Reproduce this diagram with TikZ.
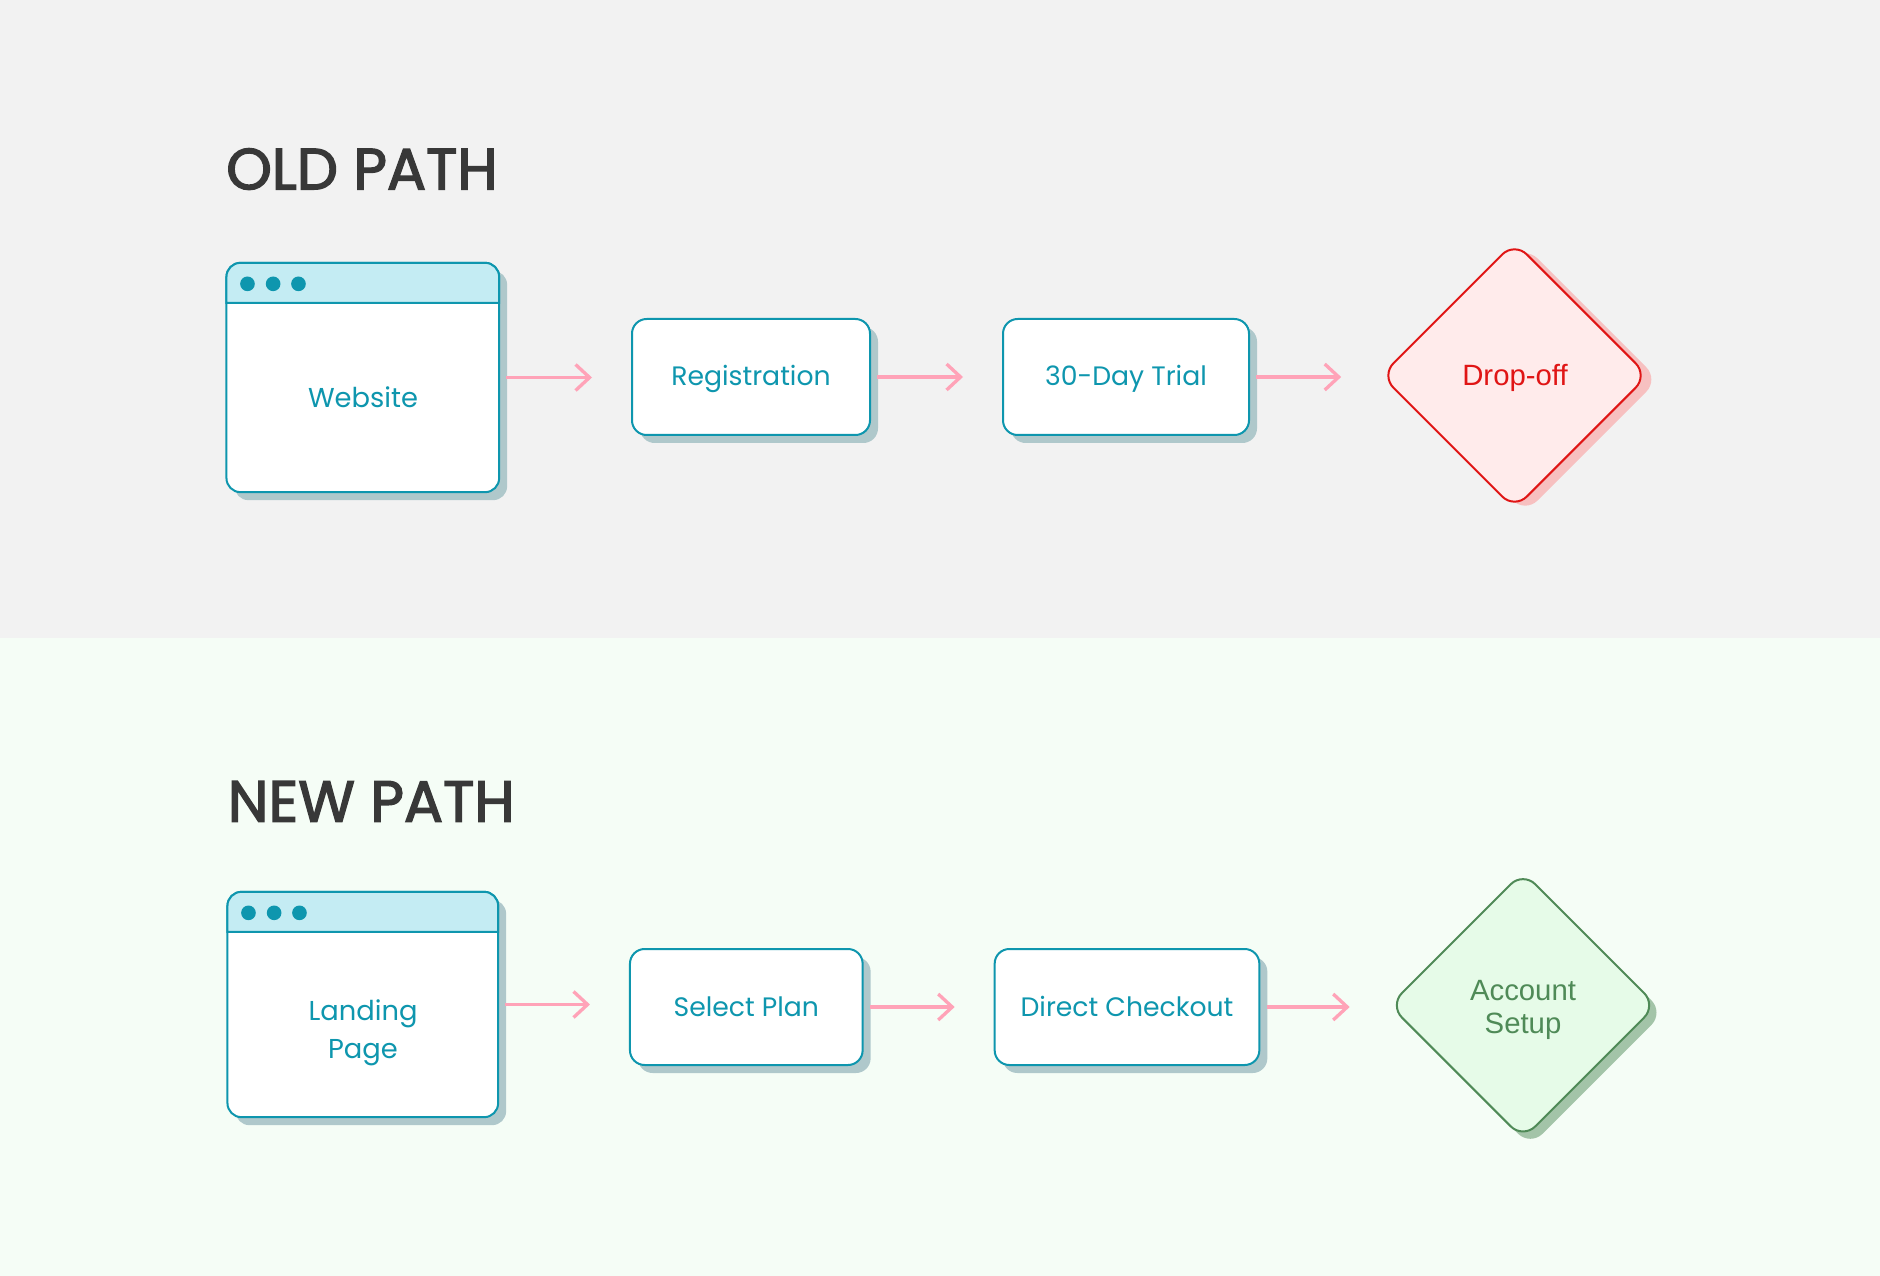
\documentclass[tikz,border=0pt]{standalone}
\usepackage{fontspec}
\usetikzlibrary{arrows.meta,shadows,shapes.geometric}
\setmainfont{Poppins}
\newfontfamily\titlefont[FakeBold=2.5]{Poppins}
\newfontfamily\endfont{Liberation Sans}
\definecolor{oldbg}{HTML}{F2F2F2}
\definecolor{newbg}{HTML}{F5FDF6}
\definecolor{flowblue}{HTML}{0E96AE}
\definecolor{barblue}{HTML}{C4ECF3}
\definecolor{boxshadow}{HTML}{AFC8CB}
\definecolor{flowpink}{HTML}{FFA3B8}
\definecolor{titlegray}{HTML}{383838}
\definecolor{dropred}{HTML}{E01515}
\definecolor{dropfill}{HTML}{FFEBEB}
\definecolor{dropshadow}{HTML}{F7C0C0}
\definecolor{setupgreen}{HTML}{4F8A57}
\definecolor{setupfill}{HTML}{E6FBE8}
\definecolor{setupshadow}{HTML}{A3C4A8}
\newcommand{\windowbar}[1]{
  \draw[flowblue,fill=barblue,line width=1.5pt] ([yshift=-30pt]#1.north west)
    [rounded corners=10.5pt] -- (#1.north west) -- (#1.north east)
    [sharp corners] -- ([yshift=-30pt]#1.north east) -- cycle;
  \foreach \dotx in {15.75,35,54} {
    \fill[flowblue] ([xshift=\dotx pt,yshift=-15.75pt]#1.north west) circle (5.5pt);
  }
}
\tikzset{
  flowbox/.style={draw=flowblue,fill=white,line width=1.5pt,rounded corners=11pt,outer sep=0pt,
    inner sep=0pt,text=flowblue,font=\fontsize{20}{28}\selectfont,text height=16pt,text depth=2.5pt,
    minimum height=87pt,
    drop shadow={shadow xshift=6pt,shadow yshift=-6pt,fill=boxshadow,opacity=1}},
  windowbox/.style={flowbox,rounded corners=10.5pt},
  windowtext/.style={text=flowblue,font=\fontsize{20.5}{28.5}\selectfont,align=center},
  pathtitle/.style={text=titlegray,anchor=base west,inner sep=0pt,font=\titlefont\fontsize{43.5}{50}\selectfont},
  flowarrow/.style={draw=flowpink,line width=2.5pt,-{Straight Barb[length=10.5pt,width=19.5pt]},
    shorten <=5.5pt,shorten >=30pt},
  endnode/.style={diamond,aspect=1,rounded corners=13pt,line width=1.5pt,outer sep=0pt,inner sep=0pt,
    minimum size=200pt},
  dropnode/.style={endnode,draw=dropred,fill=dropfill,
    drop shadow={shadow xshift=8pt,shadow yshift=-3pt,fill=dropshadow,opacity=1}},
  setupnode/.style={endnode,draw=setupgreen,fill=setupfill,
    drop shadow={shadow xshift=5.5pt,shadow yshift=-5.5pt,fill=setupshadow,opacity=1}},
  endtext/.style={align=center,font=\endfont\fontsize{22}{25}\selectfont},
}
\begin{document}
\begin{tikzpicture}[x=.75pt,y=-.75pt]
\useasboundingbox (0,0) rectangle (1880,1276);
\fill[oldbg] (0,0) rectangle (1880,638);
\fill[newbg] (0,638) rectangle (1880,1276);

% old path
\node[pathtitle] (oldtitle) at (226,189.3) {OLD PATH};
\node[windowbox,minimum width=204.5pt,minimum height=172pt] (website) at (362.8,377.5) {};
\windowbar{website}
\node[windowtext] (websitetext) at (363,397) {Website};
\node[flowbox,minimum width=178.5pt] (registration) at (751,377) {Registration};
\node[flowbox,minimum width=184.5pt] (trial) at (1126,377) {30-Day Trial};
\node[dropnode] (dropoff) at (1514.5,375.5) {};
\node[endtext,text=dropred] (dropofftext) at (1515,378) {Drop-off};
\draw[flowarrow] (website.east) -- (website.east -| registration.west);
\draw[flowarrow] (registration) -- (trial);
\draw[flowarrow] (trial.east) -- (trial.east -| dropoff.west);

% new path
\node[pathtitle] (newtitle) at (227.5,821.7) {NEW PATH};
\node[windowbox,minimum width=203pt,minimum height=169pt] (landing) at (362.8,1004.5) {};
\windowbar{landing}
\node[windowtext] (landingtext) at (363,1033) {Landing\\Page};
\node[flowbox,minimum width=174.5pt] (selectplan) at (746.3,1007) {Select Plan};
\node[flowbox,minimum width=198.5pt] (checkout) at (1127,1007) {Direct Checkout};
\node[setupnode] (setup) at (1523,1005.3) {};
\node[endtext,text=setupgreen] (setuptext) at (1523,1010) {Account\\Setup};
\draw[flowarrow] (landing.east) -- (landing.east -| selectplan.west);
\draw[flowarrow] (selectplan) -- (checkout);
\draw[flowarrow] (checkout.east) -- (checkout.east -| setup.west);
\end{tikzpicture}
\end{document}
